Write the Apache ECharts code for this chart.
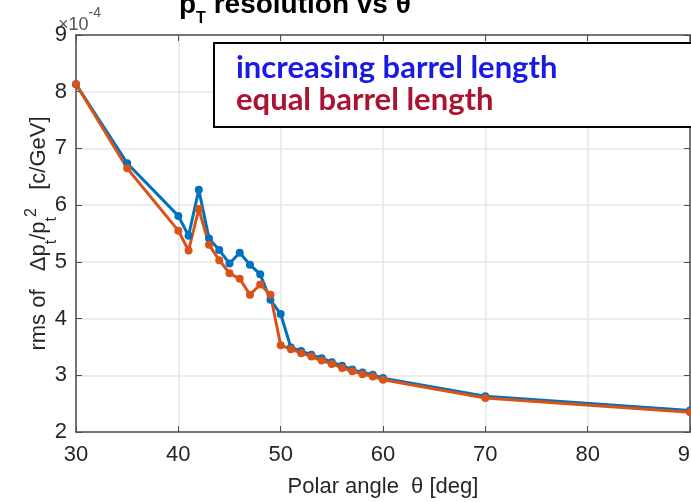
<!DOCTYPE html>
<html>
<head>
<meta charset="utf-8">
<script src="https://cdn.jsdelivr.net/npm/echarts@6/dist/echarts.min.js"></script>
<style>
  html, body { margin: 0; padding: 0; background: #fff; }
  #chart { width: 691px; height: 502px; }
</style>
</head>
<body>
<div id="chart"></div>
<script>
// polar angle (deg) and rms of dpt/pt^2 in units of 1e-4 c/GeV
const angles = [30, 35, 40, 41, 42, 43, 44, 45, 46, 47, 48, 49, 50,
  51, 52, 53, 54, 55, 56, 57, 58, 59, 60, 70, 90];
const increasingLen = [8.13, 6.74, 5.81, 5.46, 6.27, 5.41, 5.21, 4.97, 5.16, 4.95, 4.78, 4.33, 4.08,
  3.49, 3.43, 3.36, 3.30, 3.23, 3.17, 3.10, 3.05, 3.01, 2.95, 2.63, 2.38];
const equalLen = [8.13, 6.65, 5.55, 5.20, 5.93, 5.30, 5.03, 4.80, 4.70, 4.42, 4.60, 4.42, 3.53,
  3.46, 3.39, 3.33, 3.26, 3.20, 3.13, 3.07, 3.02, 2.98, 2.92, 2.60, 2.35];
const seriesNames = ['increasing barrel length', 'equal barrel length'];

const axisFont = 'Liberation Sans, Arial, sans-serif';
const axisColor = '#4d4d4d';

const myChart = echarts.init(document.getElementById('chart'));

function pairs(ys) {
  return angles.map((a, i) => [a, ys[i]]);
}

const option = {
  animation: false,
  backgroundColor: '#fff',
  title: {
    text: '{a|p}{s|T}{a| resolution vs θ}',
    left: 174,
    top: -14,
    textStyle: {
      rich: {
        a: {fontSize: 28, fontWeight: 'bold', color: '#000', fontFamily: 'Liberation Sans, Arial'},
        s: {fontSize: 16, fontWeight: 'bold', color: '#000', fontFamily: 'Liberation Sans, Arial',
          verticalAlign: 'bottom', lineHeight: 14, padding: [0, 0, -8, 0]}
      }
    }
  },
  grid: {
    left: 76,
    right: 1,
    top: 35,
    bottom: 70,
    containLabel: false,
    outerBoundsMode: 'none'
  },
  legend: {
    orient: 'vertical',
    left: 214,
    top: 43,
    icon: 'none',
    itemWidth: 0,
    itemHeight: 31,
    itemGap: 1,
    padding: [9, 300, 12, 17],
    backgroundColor: '#fff',
    borderColor: '#000',
    borderWidth: 2,
    selectedMode: false,
    textStyle: {
      fontFamily: 'Lato, sans-serif',
      fontWeight: 'bold',
      fontSize: 31,
      padding: 0
    },
    data: [
      {name: seriesNames[0], textStyle: {color: '#1a1ae6'}},
      {name: seriesNames[1], textStyle: {color: '#ad1230'}}
    ]
  },
  graphic: [
    {
      type: 'text',
      left: 58,
      top: 6,
      style: {
        text: '{a|×10}{b|-4}',
        rich: {
          a: {fontSize: 18, fill: '#555', fontFamily: axisFont, lineHeight: 28, verticalAlign: 'bottom'},
          b: {fontSize: 14, fill: '#555', fontFamily: axisFont, lineHeight: 28, verticalAlign: 'top'}
        }
      }
    }
  ],
  xAxis: [
    {
      type: 'value',
      min: 30,
      max: 90,
      interval: 10,
      name: 'Polar angle  θ [deg]',
      nameLocation: 'middle',
      nameGap: 44,
      nameTextStyle: {fontSize: 22, color: '#262626', fontFamily: axisFont},
      axisLine: {show: true, onZero: false, lineStyle: {color: axisColor, width: 1.5}},
      axisTick: {show: true, inside: true, length: 6, lineStyle: {color: axisColor}},
      axisLabel: {fontSize: 22, color: '#262626', fontFamily: axisFont, margin: 12},
      splitLine: {show: true, lineStyle: {color: '#e6e6e6', width: 1.5}}
    },
    {
      type: 'value',
      position: 'top',
      min: 30,
      max: 90,
      interval: 10,
      axisLine: {show: true, onZero: false, lineStyle: {color: axisColor, width: 1.5}},
      axisTick: {show: true, inside: true, length: 6, lineStyle: {color: axisColor}},
      axisLabel: {show: false},
      splitLine: {show: false}
    }
  ],
  yAxis: [
    {
      type: 'value',
      min: 2,
      max: 9,
      interval: 1,
      name: '{a|rms of   Δp}{s|t}{a|/p}{s|t}{u|2}{a|   [c/GeV]}',
      nameLocation: 'middle',
      nameRotate: 90,
      nameGap: 22,
      nameMoveOverlap: false,
      nameTextStyle: {
        rich: {
          a: {fontSize: 22, color: '#262626', fontFamily: axisFont, lineHeight: 30},
          s: {fontSize: 16, color: '#262626', fontFamily: axisFont, verticalAlign: 'bottom', lineHeight: 16, padding: [0, 0, -6, 0]},
          u: {fontSize: 16, color: '#262626', fontFamily: axisFont, verticalAlign: 'top', lineHeight: 16, padding: [0, 0, 0, 0]}
        }
      },
      axisLine: {show: true, onZero: false, lineStyle: {color: axisColor, width: 1.5}},
      axisTick: {show: true, inside: true, length: 6, lineStyle: {color: axisColor}},
      axisLabel: {fontSize: 22, color: '#262626', fontFamily: axisFont, margin: 9},
      splitLine: {show: true, lineStyle: {color: '#e6e6e6', width: 1.5}}
    },
    {
      type: 'value',
      position: 'right',
      min: 2,
      max: 9,
      interval: 1,
      axisLine: {show: true, onZero: false, lineStyle: {color: axisColor, width: 1.5}},
      axisTick: {show: true, inside: true, length: 6, lineStyle: {color: axisColor}},
      axisLabel: {show: false},
      splitLine: {show: false}
    }
  ],
  series: [
    {
      name: seriesNames[0],
      type: 'line',
      data: pairs(increasingLen),
      symbol: 'circle',
      symbolSize: 8,
      lineStyle: {width: 3, color: '#0072bd'},
      itemStyle: {color: '#0072bd'}
    },
    {
      name: seriesNames[1],
      type: 'line',
      data: pairs(equalLen),
      symbol: 'circle',
      symbolSize: 8,
      lineStyle: {width: 3, color: '#d95319'},
      itemStyle: {color: '#d95319'}
    }
  ]
};

myChart.setOption(option);
</script>
</body>
</html>
